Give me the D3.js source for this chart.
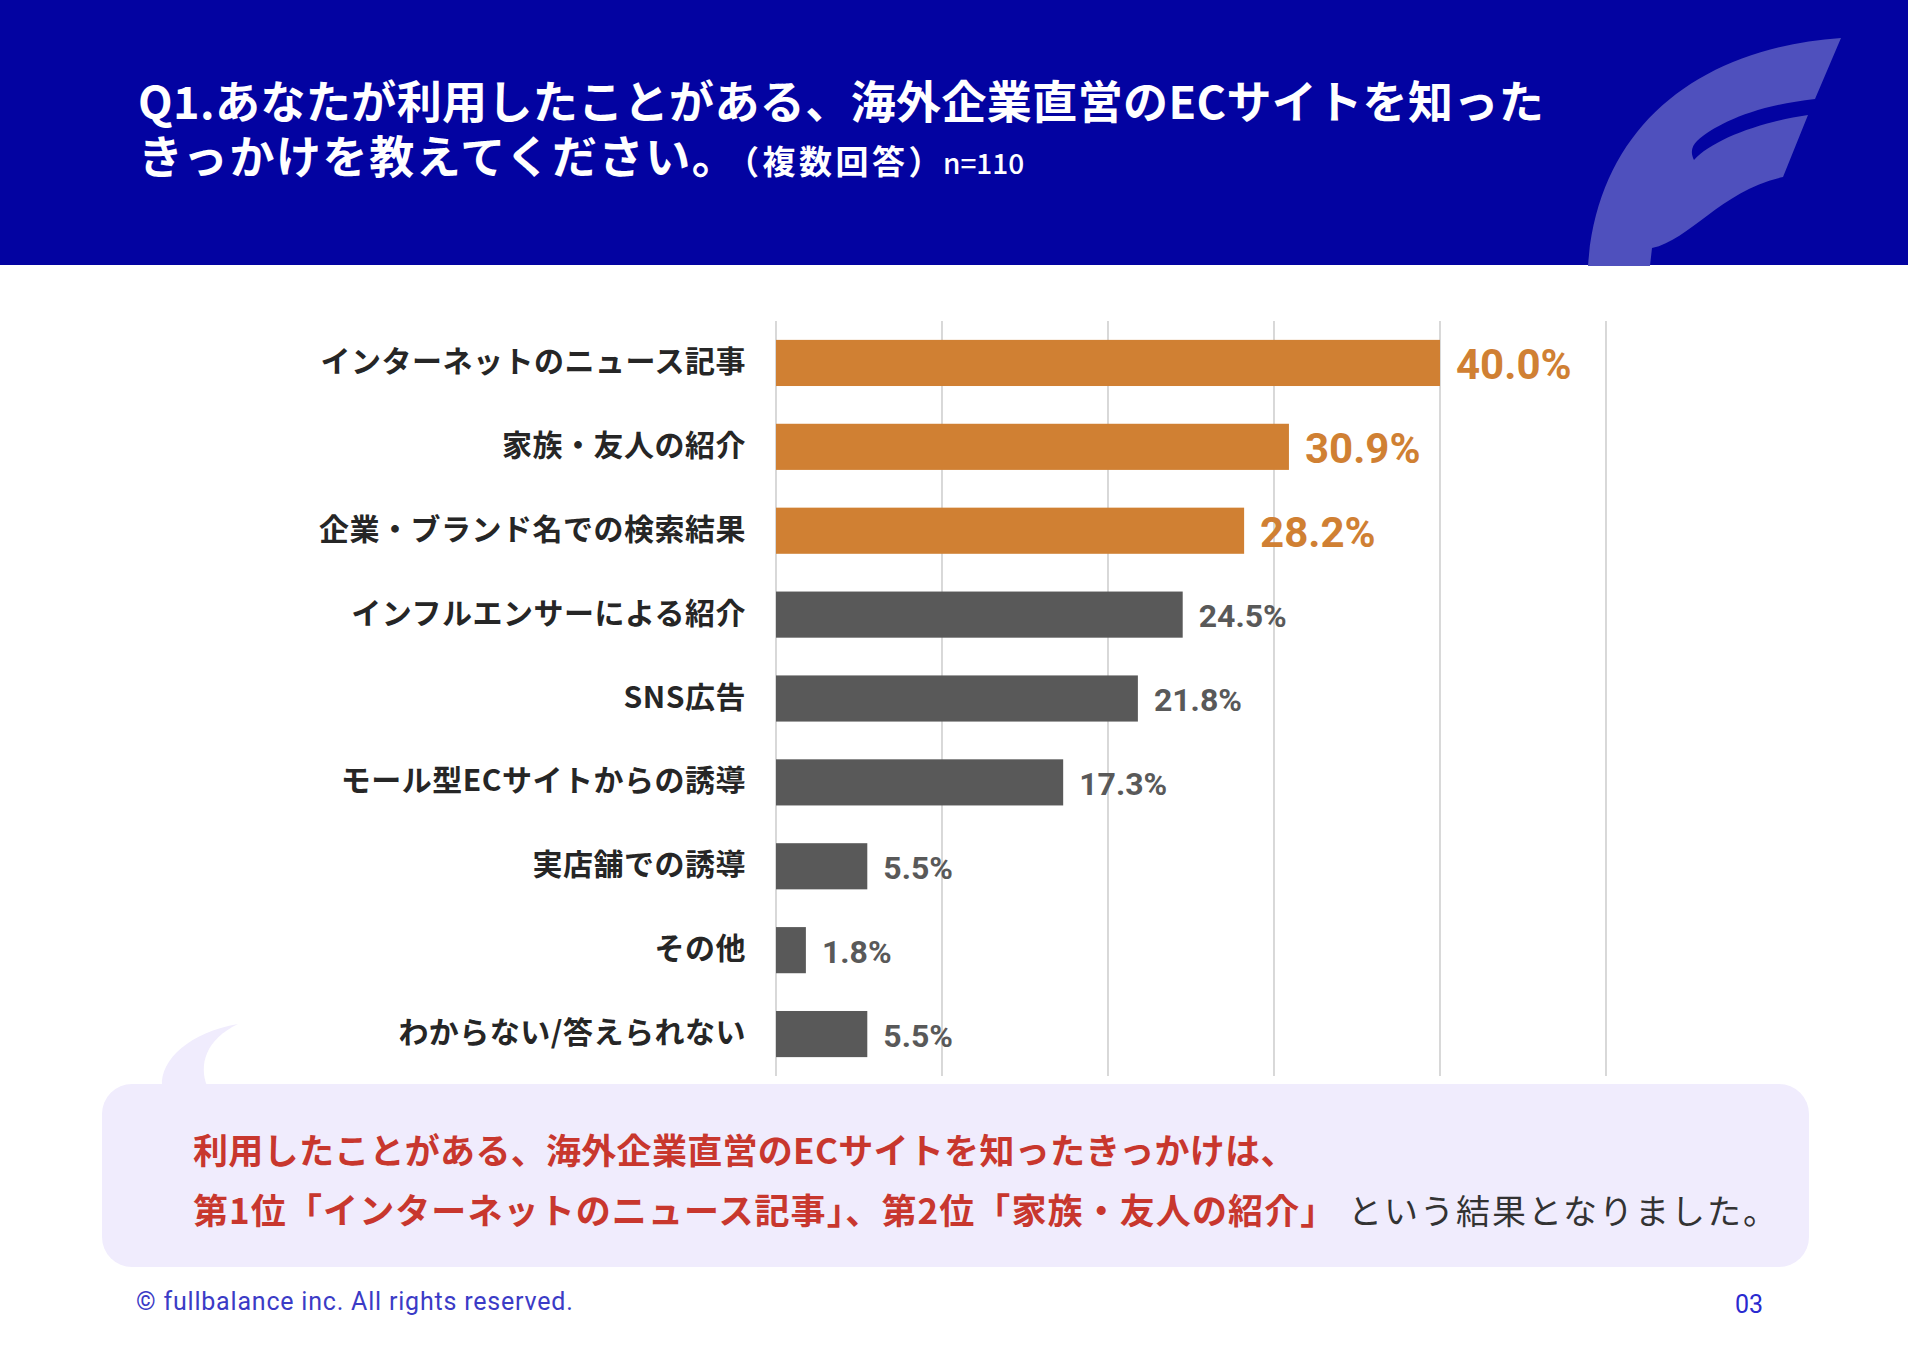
<!DOCTYPE html>
<html>
<head>
<meta charset="utf-8">
<script src="https://cdn.jsdelivr.net/npm/d3@7"></script>
<style>
  html, body { margin: 0; padding: 0; background: #fff; }
  svg { display: block; }
</style>
</head>
<body>
<svg id="chart" width="1908" height="1346"></svg>
<script>
// ---- data ----
const categories = [
  "インターネットのニュース記事",
  "家族・友人の紹介",
  "企業・ブランド名での検索結果",
  "インフルエンサーによる紹介",
  "SNS広告",
  "モール型ECサイトからの誘導",
  "実店舗での誘導",
  "その他",
  "わからない/答えられない"
];
const values = [40.0, 30.9, 28.2, 24.5, 21.8, 17.3, 5.5, 1.8, 5.5];
const xTicks = [0, 10, 20, 30, 40, 50];
const titleLine1 = "Q1.あなたが利用したことがある、海外企業直営のECサイトを知った";
const titleLine2 = "きっかけを教えてください。";
const titleNote = "（複数回答）";
const sampleNote = "n=110";
const summaryLine1 = "利用したことがある、海外企業直営のECサイトを知ったきっかけは、";
const summaryLine2Red = "第1位「インターネットのニュース記事」、第2位「家族・友人の紹介」";
const summaryLine2Rest = "という結果となりました。";
const footerText = "© fullbalance inc. All rights reserved.";
const pageNumber = "03";

const JP = "'Noto Sans CJK JP', 'Noto Sans', sans-serif";
const NUM = "Roboto, 'Noto Sans', sans-serif";

const svg = d3.select("#chart");

// ---- header ----
svg.append("rect").attr("x", 0).attr("y", 0).attr("width", 1908).attr("height", 265).attr("fill", "#0303A1");
svg.append("path")
  .attr("d", "M1841 38 C1700 48 1598 125 1588 266 L1650 266 L1652 248 C1690 240 1722 190 1783 177 L1808 115 C1760 122 1712 140 1694 160 C1690 152 1692 146 1697 141 C1715 125 1752 106 1815 99 Z")
  .attr("fill", "#4F50BD");

svg.append("text").attr("fill", "#fff").attr("font-family", JP).attr("font-weight", 700)
  .attr("x", 138).attr("y", 119).attr("font-size", 45).attr("letter-spacing", 0.4)
  .text(titleLine1);
const t2 = svg.append("text").attr("fill", "#fff").attr("font-family", JP).attr("font-weight", 700).attr("x", 138).attr("y", 174);
t2.append("tspan").attr("font-size", 45).attr("letter-spacing", 1.6).text(titleLine2);
t2.append("tspan").attr("font-size", 33).attr("letter-spacing", 3.5).attr("dx", 4).text(titleNote);
t2.append("tspan").attr("font-size", 28).attr("font-weight", 500).attr("dx", -2).text(sampleNote);

// ---- chart ----
const x = d3.scaleLinear().domain([0, 50]).range([776, 1606]);
const y = d3.scaleBand().domain(categories).range([321, 1076]).paddingInner(0.45).paddingOuter(0.225);

const isTop = v => values.filter(w => w > v).length < 3;

svg.append("g").selectAll("line").data(xTicks).join("line")
  .attr("x1", d => x(d)).attr("x2", d => x(d))
  .attr("y1", 321).attr("y2", 1076)
  .attr("stroke", "#C4C4C4").attr("stroke-width", 1.3);

const rows = categories.map((c, i) => ({ c, v: values[i], top: isTop(values[i]) }));

svg.append("g").selectAll("rect").data(rows).join("rect")
  .attr("x", x(0)).attr("y", d => y(d.c))
  .attr("width", d => x(d.v) - x(0)).attr("height", y.bandwidth())
  .attr("fill", d => d.top ? "#D08033" : "#595959");

svg.append("g").selectAll("text").data(rows).join("text")
  .attr("x", 746).attr("y", d => y(d.c) + y.bandwidth() / 2 - 2)
  .attr("dy", "0.37em").attr("text-anchor", "end")
  .attr("font-family", JP).attr("font-weight", 700).attr("font-size", 30)
  .attr("letter-spacing", 0.5)
  .attr("fill", "#262626").text(d => d.c);

svg.append("g").selectAll("text").data(rows).join("text")
  .attr("x", d => x(d.v) + 16).attr("y", d => y(d.c) + y.bandwidth() / 2 + 1)
  .attr("dy", "0.36em")
  .attr("font-family", NUM).attr("font-weight", 700)
  .attr("font-size", d => d.top ? 42 : 32)
  .attr("fill", d => d.top ? "#D08033" : "#595959")
  .text(d => d.v.toFixed(1) + "%");

// ---- summary box ----
svg.append("path")
  .attr("d", "M238 1024 C190 1032 160 1060 162 1086 L207 1086 C199 1065 205 1040 238 1024 Z")
  .attr("fill", "#F0ECFD");
svg.append("rect").attr("x", 102).attr("y", 1084).attr("width", 1707).attr("height", 183).attr("rx", 30).attr("fill", "#F0ECFD");

svg.append("text").attr("x", 193).attr("y", 1164)
  .attr("font-family", JP).attr("font-weight", 700).attr("font-size", 35).attr("letter-spacing", 0.3).attr("fill", "#C8372E")
  .text(summaryLine1);
svg.append("text").attr("x", 193).attr("y", 1224)
  .attr("font-family", JP).attr("font-weight", 700).attr("font-size", 35).attr("letter-spacing", 1.1).attr("fill", "#C8372E")
  .text(summaryLine2Red);
svg.append("text").attr("x", 1348).attr("y", 1224)
  .attr("font-family", JP).attr("font-weight", 400).attr("font-size", 34).attr("letter-spacing", 2).attr("fill", "#333")
  .text(summaryLine2Rest);

// ---- footer ----
svg.append("text").attr("x", 136).attr("y", 1310)
  .attr("font-family", NUM).attr("font-size", 25).attr("letter-spacing", 0.8).attr("fill", "#3B3BC6").text(footerText);
svg.append("text").attr("x", 1735).attr("y", 1313)
  .attr("font-family", NUM).attr("font-size", 25).attr("fill", "#2A2AD0").text(pageNumber);
</script>
</body>
</html>
